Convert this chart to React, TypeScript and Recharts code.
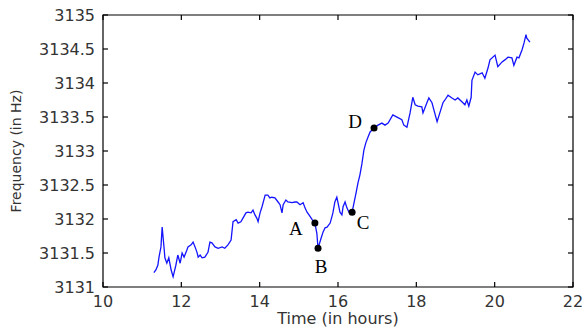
import { ComposedChart, Line, ReferenceArea, ReferenceLine, Scatter, XAxis, YAxis } from 'recharts';

// time in hours / frequency in Hz
const HOURS = [
  11.3, 11.35, 11.4, 11.43, 11.48, 11.51, 11.56, 11.58, 11.63, 11.68, 11.74, 11.79, 11.86, 11.91,
  11.97, 12.02, 12.07, 12.14, 12.17, 12.25, 12.3, 12.35, 12.4, 12.43, 12.48, 12.53, 12.6, 12.68,
  12.73, 12.78, 12.86, 12.94, 13.04, 13.11, 13.19, 13.27, 13.32, 13.4, 13.45, 13.52, 13.57, 13.65,
  13.7, 13.78, 13.83, 13.88, 13.93, 13.96, 14.01, 14.06, 14.14, 14.21, 14.26, 14.31, 14.39, 14.47,
  14.52, 14.57, 14.6, 14.67, 14.72, 14.83, 14.9, 14.95, 15.03, 15.11, 15.16, 15.21, 15.26, 15.34,
  15.41, 15.46, 15.49, 15.57, 15.62, 15.67, 15.72, 15.8, 15.87, 15.92, 15.97, 16.0, 16.05, 16.1,
  16.13, 16.18, 16.23, 16.28, 16.36, 16.41, 16.46, 16.51, 16.56, 16.61, 16.66, 16.71, 16.77, 16.82,
  16.92, 17.02, 17.12, 17.2, 17.28, 17.4, 17.53, 17.63, 17.68, 17.76, 17.84, 17.91, 17.97, 18.04,
  18.14, 18.17, 18.27, 18.32, 18.4, 18.45, 18.53, 18.6, 18.68, 18.73, 18.81, 18.91, 18.99, 19.06,
  19.17, 19.24, 19.29, 19.34, 19.4, 19.42, 19.5, 19.57, 19.68, 19.75, 19.83, 19.88, 20.01, 20.08,
  20.19, 20.26, 20.34, 20.44, 20.49, 20.57, 20.62, 20.7, 20.75, 20.8, 20.82, 20.9,
];

const FREQ_HZ = [
  3131.21, 3131.25, 3131.32, 3131.44, 3131.59, 3131.88, 3131.57, 3131.43, 3131.35, 3131.43, 3131.25,
  3131.15, 3131.32, 3131.47, 3131.35, 3131.5, 3131.44, 3131.54, 3131.59, 3131.62, 3131.66, 3131.59,
  3131.51, 3131.44, 3131.47, 3131.43, 3131.44, 3131.51, 3131.66, 3131.65, 3131.59, 3131.57, 3131.59,
  3131.57, 3131.62, 3131.69, 3131.96, 3131.99, 3131.94, 3131.96, 3132.01, 3132.09, 3132.1, 3132.09,
  3132.13, 3132.06, 3132.01, 3131.96, 3132.09, 3132.18, 3132.35, 3132.35, 3132.31, 3132.32, 3132.31,
  3132.25, 3132.21, 3132.09, 3132.21, 3132.28, 3132.25, 3132.24, 3132.25, 3132.25, 3132.21, 3132.24,
  3132.16, 3132.1, 3132.06, 3131.99, 3131.94, 3131.79, 3131.57, 3131.72, 3131.81, 3131.87, 3131.88,
  3131.94, 3132.09, 3132.25, 3132.32, 3132.24, 3132.1, 3132.06, 3132.18, 3132.25, 3132.16, 3132.1,
  3132.1, 3132.24, 3132.38, 3132.53, 3132.65, 3132.81, 3133.01, 3133.12, 3133.21, 3133.28, 3133.34,
  3133.38, 3133.41, 3133.38, 3133.41, 3133.53, 3133.49, 3133.46, 3133.38, 3133.35, 3133.56, 3133.79,
  3133.68, 3133.66, 3133.65, 3133.56, 3133.71, 3133.78, 3133.71, 3133.6, 3133.43, 3133.56, 3133.71,
  3133.75, 3133.82, 3133.78, 3133.75, 3133.78, 3133.72, 3133.68, 3133.75, 3133.66, 3133.79, 3134.04,
  3134.16, 3134.12, 3134.15, 3134.07, 3134.22, 3134.34, 3134.41, 3134.24, 3134.31, 3134.34, 3134.38,
  3134.37, 3134.26, 3134.38, 3134.37, 3134.49, 3134.59, 3134.71, 3134.66, 3134.6,
];

const MARK_NAMES = ['A', 'B', 'C', 'D'];
const MARK_HOURS = [15.41, 15.49, 16.36, 16.92];
const MARK_HZ = [3131.94, 3131.57, 3132.1, 3133.34];

const X_TICKS = [10, 12, 14, 16, 18, 20, 22];
const Y_TICKS = [3131, 3131.5, 3132, 3132.5, 3133, 3133.5, 3134, 3134.5, 3135];

const series = HOURS.map((t, i) => ({ t, f: FREQ_HZ[i] }));
const marks = MARK_NAMES.map((name, i) => ({ t: MARK_HOURS[i], f: MARK_HZ[i], name }));

const X_MIN = 10;
const X_MAX = 22;
const Y_MIN = 3131;
const Y_MAX = 3135;

// plot box is 470 x 272 px; inward tick marks are 5 px long
const PLOT_W = 470;
const PLOT_H = 272;
const TICK_X = ((X_MAX - X_MIN) / PLOT_W) * 5;
const TICK_Y = ((Y_MAX - Y_MIN) / PLOT_H) * 5;

const INK = '#000';
const TEXT = '#333';
const SANS = "'DejaVu Sans', sans-serif";

// where each letter sits relative to its dot
const LABEL_SHIFT: Record<string, [number, number]> = {
  A: [-19, 5],
  B: [3, 18],
  C: [11, 10],
  D: [-19, -6],
};

function Marker(props: any) {
  const { cx, cy, payload } = props;
  const [dx, dy] = LABEL_SHIFT[payload.name] ?? [0, 0];
  return (
    <g>
      <circle cx={cx} cy={cy} r={3.5} fill="#000" />
      <text
        x={cx + dx}
        y={cy + dy}
        textAnchor="middle"
        dominantBaseline="central"
        fontFamily="'Liberation Serif', serif"
        fontSize={19}
        fill="#000"
      >
        {payload.name}
      </text>
    </g>
  );
}

const titleStyle = {
  position: 'absolute' as const,
  fontFamily: SANS,
  color: TEXT,
  whiteSpace: 'nowrap' as const,
};

export default function App() {
  return (
    <div style={{ position: 'absolute', left: 0, top: 0, width: 582, height: 332, background: '#fff' }}>
      <ComposedChart width={582} height={332} margin={{ top: 15, right: 9, bottom: 0, left: 0 }}>
        <XAxis
          dataKey="t"
          type="number"
          domain={[X_MIN, X_MAX]}
          ticks={X_TICKS}
          height={45}
          tickSize={0}
          tickMargin={9}
          tickLine={false}
          axisLine={false}
          tick={{ fontSize: 16, fill: TEXT, fontFamily: SANS }}
        />
        <YAxis
          type="number"
          domain={[Y_MIN, Y_MAX]}
          ticks={Y_TICKS}
          width={103}
          tickSize={0}
          tickMargin={8}
          tickLine={false}
          axisLine={false}
          tick={{ fontSize: 16, fill: TEXT, fontFamily: SANS }}
        />

        {/* matlab box with inward ticks on all four sides */}
        <ReferenceArea
          x1={X_MIN}
          x2={X_MAX}
          y1={Y_MIN}
          y2={Y_MAX}
          fill="none"
          fillOpacity={0}
          stroke={INK}
          strokeWidth={1.2}
          strokeOpacity={1}
        />
        {X_TICKS.map((t) => (
          <ReferenceLine
            key={`xb${t}`}
            segment={[{ x: t, y: Y_MIN }, { x: t, y: Y_MIN + TICK_Y }]}
            stroke={INK}
            strokeWidth={1.2}
          />
        ))}
        {X_TICKS.map((t) => (
          <ReferenceLine
            key={`xt${t}`}
            segment={[{ x: t, y: Y_MAX }, { x: t, y: Y_MAX - TICK_Y }]}
            stroke={INK}
            strokeWidth={1.2}
          />
        ))}
        {Y_TICKS.map((v) => (
          <ReferenceLine
            key={`yl${v}`}
            segment={[{ x: X_MIN, y: v }, { x: X_MIN + TICK_X, y: v }]}
            stroke={INK}
            strokeWidth={1.2}
          />
        ))}
        {Y_TICKS.map((v) => (
          <ReferenceLine
            key={`yr${v}`}
            segment={[{ x: X_MAX, y: v }, { x: X_MAX - TICK_X, y: v }]}
            stroke={INK}
            strokeWidth={1.2}
          />
        ))}

        <Line
          data={series}
          dataKey="f"
          stroke="#1414ff"
          strokeWidth={1.3}
          dot={false}
          isAnimationActive={false}
        />
        <Scatter data={marks} dataKey="f" shape={<Marker />} isAnimationActive={false} />
      </ComposedChart>
      <div style={{ ...titleStyle, left: 338, top: 311, fontSize: 16, lineHeight: '16px', transform: 'translateX(-50%)' }}>
        Time (in hours)
      </div>
      <div
        style={{
          ...titleStyle,
          left: 16,
          top: 151,
          fontSize: 14,
          lineHeight: '14px',
          transform: 'translate(-50%, -50%) rotate(-90deg)',
        }}
      >
        Frequency (in Hz)
      </div>
    </div>
  );
}
